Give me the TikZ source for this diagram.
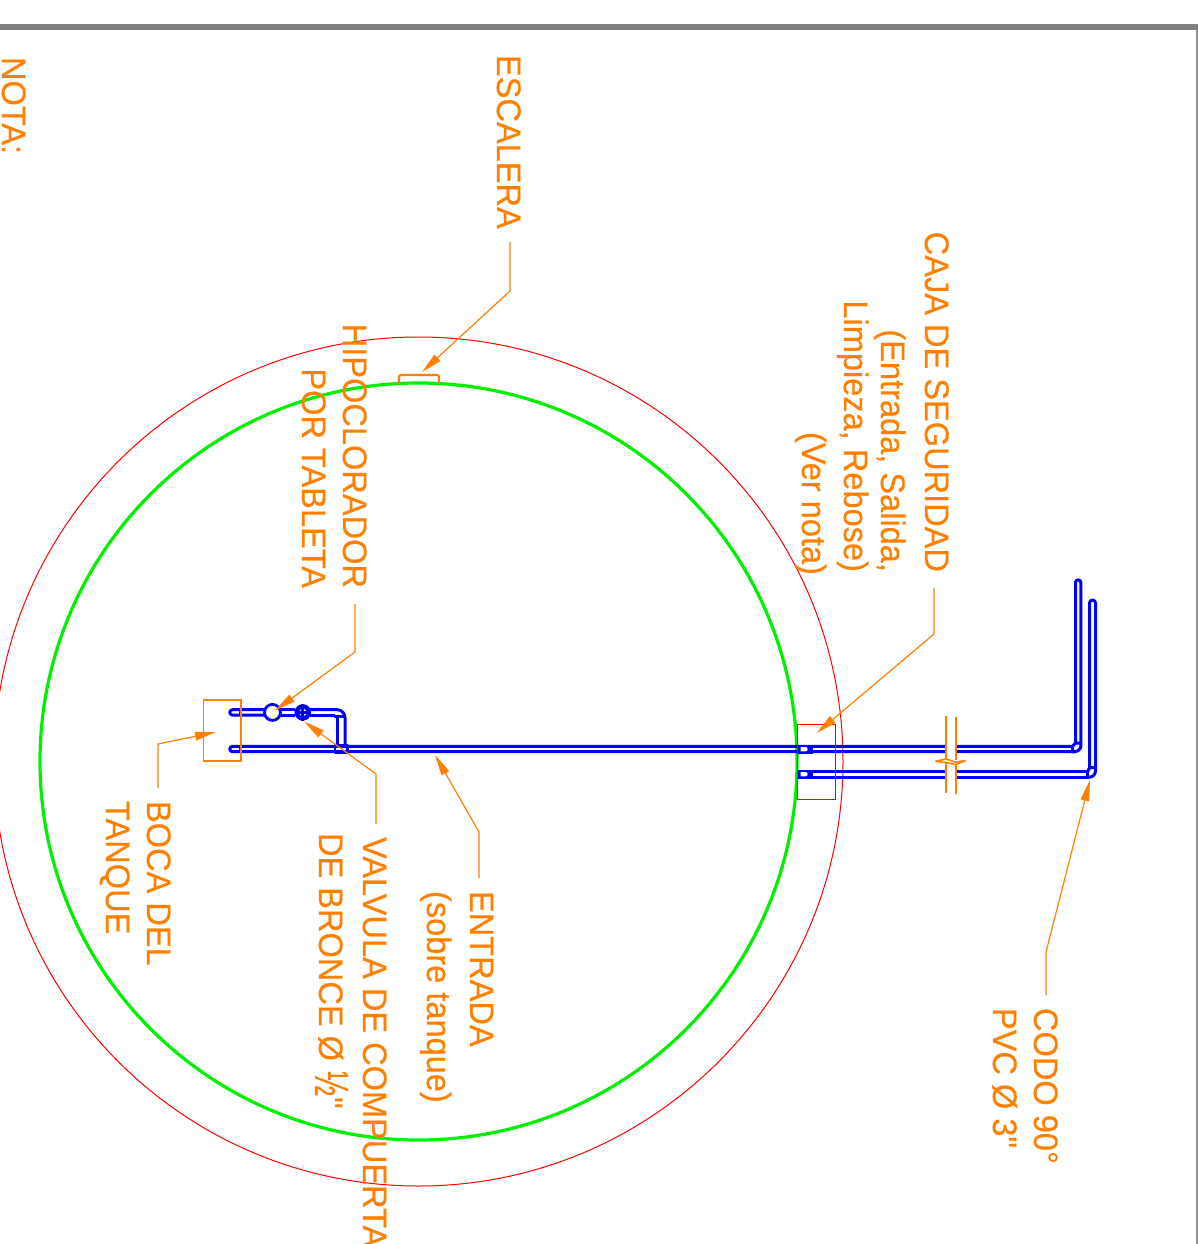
\documentclass[tikz,border=0pt]{standalone}
\usepackage{graphicx}
\usepackage{fontspec}
\newfontfamily\labelfont[FakeStretch=0.958,FakeBold=0.35]{Liberation Sans}
\usetikzlibrary{arrows.meta}
\definecolor{dorange}{RGB}{255,128,0}
\definecolor{dgreen}{RGB}{0,240,0}
\definecolor{dblue}{RGB}{0,0,255}
\definecolor{dred}{RGB}{255,0,0}
\definecolor{dgray}{RGB}{128,128,128}
\tikzset{
 label text/.style={rotate=-90,anchor=base west,inner sep=0pt,outer sep=0pt,text=dorange,font=\labelfont\fontsize{34}{34}\selectfont},
 label end/.style={label text,anchor=base east},
 leader/.style={draw=dorange,line width=1.2pt,-{Triangle[length=21pt,width=8.5pt]},shorten <=13pt},
 pipe/.style={draw=dblue,line width=3pt,line join=round},
 outline/.style={draw=dorange,line width=1.2pt},
}
\begin{document}
\begin{tikzpicture}[x=1pt,y=-1pt]
\useasboundingbox (0,0) rectangle (1198,1244);
\clip (0,0) rectangle (1198,1244);
% frame
\fill[dgray] (0,24) rectangle (1198,30);
\fill[dgray!85] (1195.8,30) rectangle (1197.6,1244);
% tank
\draw[dred,line width=1pt] (418.5,761.5) circle[radius=424.5pt];
\draw[dgreen,line width=3.2pt] (418.5,761.5) circle[radius=378.5pt];
% ladder
\draw[draw=dorange,line width=2.2pt,rounded corners=2pt] (399,383) -- (399,375) -- (439,375) -- (439,383);
% pipes
\draw[pipe] (1072,746.3) -- (232.5,746.3) arc[start angle=90,end angle=270,radius=2.7pt] -- (1072,751.7);
\draw[pipe] (240,746.3) -- (240,751.7);
\draw[pipe] (1087,771.6) -- (803,771.6) (803,777) -- (1087,777);
\draw[pipe] (1075.5,743) -- (1075.5,582.5) arc[start angle=180,end angle=0,radius=2.7pt] -- (1080.9,746) .. controls (1080.9,749.5) and (1077.5,752) .. (1072.5,752) -- (1072.5,746.3) -- (1075.5,743) -- (1080.9,743);
\draw[pipe] (1089.5,767.7) -- (1089.5,603) arc[start angle=180,end angle=0,radius=3pt] -- (1095.5,771) .. controls (1095.5,775) and (1092,777.5) .. (1087.5,777.5) -- (1087.5,771.6) -- (1089.5,767.7) -- (1095.5,767.7);
% small branch
\draw[pipe] (264,709.7) -- (232.5,709.7) arc[start angle=90,end angle=270,radius=2.7pt] -- (264,715.1);
\draw[pipe] (240,709.7) -- (240,715.1);
\draw[pipe] (281,709.7) -- (295,709.7) (281,715.1) -- (295,715.1);
\draw[pipe] (310,709.7) -- (337,709.7) arc[start angle=90,end angle=0,radius=8pt] -- (345,745);
\draw[pipe] (310,715.1) -- (335,715.1) (337,715.1) -- (337,745) (334,716) -- (345,716);
\draw[pipe,line width=2.2pt] (335,745.2) rectangle (347.5,752.8);
% hose bib and valve
\node[draw=dblue,line width=2.8pt,circle,minimum size=16pt,inner sep=0pt,fill=white] (bib) at (272.5,712.4) {};
\node[draw=dblue,line width=4.4pt,circle,minimum size=12pt,inner sep=0pt,fill=white] (valve) at (302.8,712.4) {};
\draw[dblue,line width=3pt] (valve.west) -- (valve.east) (valve.north) -- (valve.south);
% wall fittings
\fill[dblue] (797,744.7) rectangle (812.7,753.7);
\fill[dblue] (797,769.7) rectangle (812.7,778.7);
\fill[white] (800.7,747) -- (805.5,747) arc[start angle=90,end angle=-90,radius=2.2pt] -- (800.7,751.4) -- cycle;
\fill[white] (800.7,772) -- (805.5,772) arc[start angle=90,end angle=-90,radius=2.2pt] -- (800.7,776.4) -- cycle;
% boxes
\draw[outline] (203.5,700) rectangle (241,761);
\draw[dred,line width=1pt] (797.5,724) rectangle (835,799);
% pipe break
\fill[white] (947,740) rectangle (955,783);
\draw[draw=dorange,line width=1.6pt] (945.8,716) -- (945.8,759) (945.8,763) -- (945.8,793)
  (955.8,717) -- (955.8,760) (955.8,764) -- (955.8,794);
\draw[draw=dorange,line width=1.6pt,line join=round] (935.5,761.3) -- (946,759) -- (955.8,762.2) -- (965.5,760.6);
\draw[draw=dorange,line width=1.6pt,line join=round] (935.5,761.3) -- (946,762.6) -- (955.8,764.5) -- (965.5,760.6);
% labels
\node[label text] (nota) at (2,57) {NOTA:};
\node[label text] (esc) at (497,55) {ESCALERA};
\node[label end] (caja1) at (925,572) {CAJA DE SEGURIDAD};
\node[label end] (caja2) at (881,572) {(Entrada, Salida,};
\node[label end] (caja3) at (844,572) {Limpieza, Rebose)};
\node[label end] (caja4) at (802,575) {(Ver nota)};
\node[label end] (hipo1) at (343,588) {HIPOCLORADOR};
\node[label end] (hipo2) at (302,588) {POR TABLETA};
\node[label text] (valv1) at (363,837) {VALVULA DE COMPUERTA};
\node[label text] (valv2) at (319,833) {DE BRONCE Ø\hspace{10pt}\raisebox{-4pt}{\resizebox{25pt}{33pt}{½}}\hspace{1pt}"};
\node[label text] (ent1) at (470,891) {ENTRADA};
\node[label text] (ent2) at (427,891) {(sobre tanque)};
\node[label text] (codo1) at (1034,1008) {CODO 90°};
\node[label text] (codo2) at (993,1008) {PVC Ø 3"};
\node[label text] (boca1) at (147,801) {BOCA DEL};
\node[label text] (boca2) at (106,801) {TANQUE};
% leaders
\coordinate (eEsc) at (510,291);   \coordinate (tEsc) at (422,372);
\coordinate (eCaja) at (934,634);  \coordinate (tCaja) at (816.7,733);
\coordinate (eHipo) at (355,652);  \coordinate (tHipo) at (275,710.5);
\coordinate (eValv) at (376,774);  \coordinate (tValv) at (304,721.5);
\coordinate (eEnt) at (479,832);   \coordinate (tEnt) at (435,755);
\coordinate (eCodo) at (1046,952); \coordinate (tCodo) at (1090,780);
\coordinate (eBoca) at (158,744);  \coordinate (tBoca) at (216,732);
\draw[leader] (esc.east -| eEsc) -- (eEsc) -- (tEsc);
\draw[leader,shorten <=16pt] (caja1.east -| eCaja) -- (eCaja) -- (tCaja);
\draw[leader,shorten <=16pt] (hipo1.east -| eHipo) -- (eHipo) -- (tHipo);
\draw[leader] (valv1.west -| eValv) -- (eValv) -- (tValv);
\draw[leader] (ent1.west -| eEnt) -- (eEnt) -- (tEnt);
\draw[leader] (codo1.west -| eCodo) -- (eCodo) -- (tCodo);
\draw[leader] (boca1.west -| eBoca) -- (eBoca) -- (tBoca);
\end{tikzpicture}
\end{document}
